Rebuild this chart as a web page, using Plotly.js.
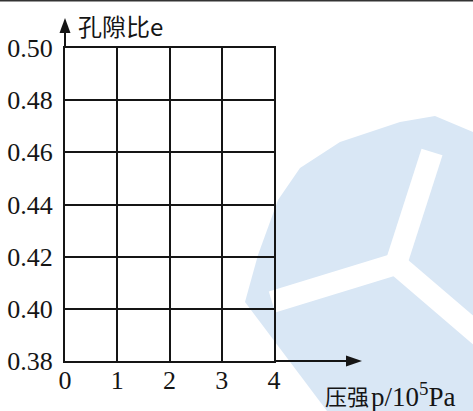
<!DOCTYPE html>
<html>
<head>
<meta charset="utf-8">
<script src="https://cdn.plot.ly/plotly-3.0.1.min.js"></script>
<style>html,body{margin:0;padding:0;background:#fff;}#chart{width:473px;height:411px;}</style>
</head>
<body>
<div id="chart"></div>
<script>
// ---- data ----
const xTicks = [0, 1, 2, 3, 4];
const yTicks = [0.38, 0.40, 0.42, 0.44, 0.46, 0.48, 0.50];
const xTitleCJK = '压强';
const xTitleUnit = 'p/10<sup>5</sup>Pa';
const yTitle = '孔隙比e';

// ---- layout geometry (pixels) ----
const W = 473, H = 411;
const L = 65, PW = 209, T = 48, PH = 313;
const px = x => (x - L) / PW;
const py = y => (T + PH - y) / PH;
const P = pts => 'M' + pts.map(p => px(p[0]).toFixed(4) + ',' + py(p[1]).toFixed(4)).join(' L') + ' Z';

const ink = '#151515';
const wm = '#d9e7f5';
const SERIF = 'Liberation Serif';
const CJK = 'Noto Sans CJK SC';

const shapes = [
  // watermark
  {type:'path', xref:'paper', yref:'paper', layer:'below', line:{width:0}, fillcolor:wm,
   path: P([[245,302],[258,255],[278,200],[300,168],[340,142],[400,122],[435,116],[473,132],[473,411],[327,411]])},
  {type:'line', xref:'paper', yref:'paper', layer:'below', line:{color:'#fff', width:22},
   x0:px(432), y0:py(152), x1:px(396), y1:py(264)},
  {type:'line', xref:'paper', yref:'paper', layer:'below', line:{color:'#fff', width:22},
   x0:px(396), y0:py(264), x1:px(272), y1:py(302)},
  {type:'line', xref:'paper', yref:'paper', layer:'below', line:{color:'#fff', width:22},
   x0:px(396), y0:py(264), x1:px(480), y1:py(336)},
  // top border
  {type:'line', xref:'paper', yref:'paper', line:{color:'#333', width:1.5},
   x0:px(0), y0:py(0.7), x1:px(W), y1:py(0.7)},
  // x arrow
  {type:'line', xref:'paper', yref:'paper', line:{color:ink, width:2},
   x0:1, y0:0, x1:px(350), y1:0},
  {type:'path', xref:'paper', yref:'paper', line:{width:0}, fillcolor:ink,
   path: P([[346,355.5],[362,361],[346,366.5]])},
  // y arrow
  {type:'line', xref:'paper', yref:'paper', line:{color:ink, width:2},
   x0:0, y0:1, x1:0, y1:py(30)},
  {type:'path', xref:'paper', yref:'paper', line:{width:0}, fillcolor:ink,
   path: P([[59.5,33],[65,18],[70.5,33]])}
];

const annotations = [
  {xref:'paper', yref:'paper', x:px(76), y:py(26), xanchor:'left', yanchor:'middle', showarrow:false,
   text:yTitle, font:{family:CJK, size:24, color:ink}},
  {xref:'paper', yref:'paper', x:px(323), y:py(395), xanchor:'left', yanchor:'middle', showarrow:false,
   text:xTitleCJK, font:{family:CJK, size:22, color:ink}},
  {xref:'paper', yref:'paper', x:px(369), y:py(395), xanchor:'left', yanchor:'middle', showarrow:false,
   text:xTitleUnit, font:{family:SERIF, size:27, color:ink}}
];

function axis(extra) {
  return Object.assign({
    showgrid:true, gridcolor:ink, gridwidth:2,
    showline:true, linecolor:ink, linewidth:2, mirror:true,
    zeroline:false, ticks:'', fixedrange:true,
    tickfont:{family:SERIF, size:26, color:ink}
  }, extra);
}

const layout = {
  width:W, height:H,
  font:{family:SERIF, color:ink},
  margin:{l:L, r:W-L-PW, t:T, b:H-T-PH, pad:0},
  paper_bgcolor:'#fff', plot_bgcolor:'rgba(0,0,0,0)',
  showlegend:false,
  xaxis: axis({range:[0,4], tickvals:xTicks, ticktext:xTicks.map(String), ticklabelstandoff:-5}),
  yaxis: axis({range:[0.38,0.50], tickvals:yTicks, ticktext:yTicks.map(v=>v.toFixed(2)), ticklabelstandoff:5}),
  shapes: shapes,
  annotations: annotations
};

Plotly.newPlot('chart', [{type:'scatter', mode:'lines', x:[], y:[], hoverinfo:'skip'}], layout, {staticPlot:true, displayModeBar:false});
</script>
</body>
</html>
